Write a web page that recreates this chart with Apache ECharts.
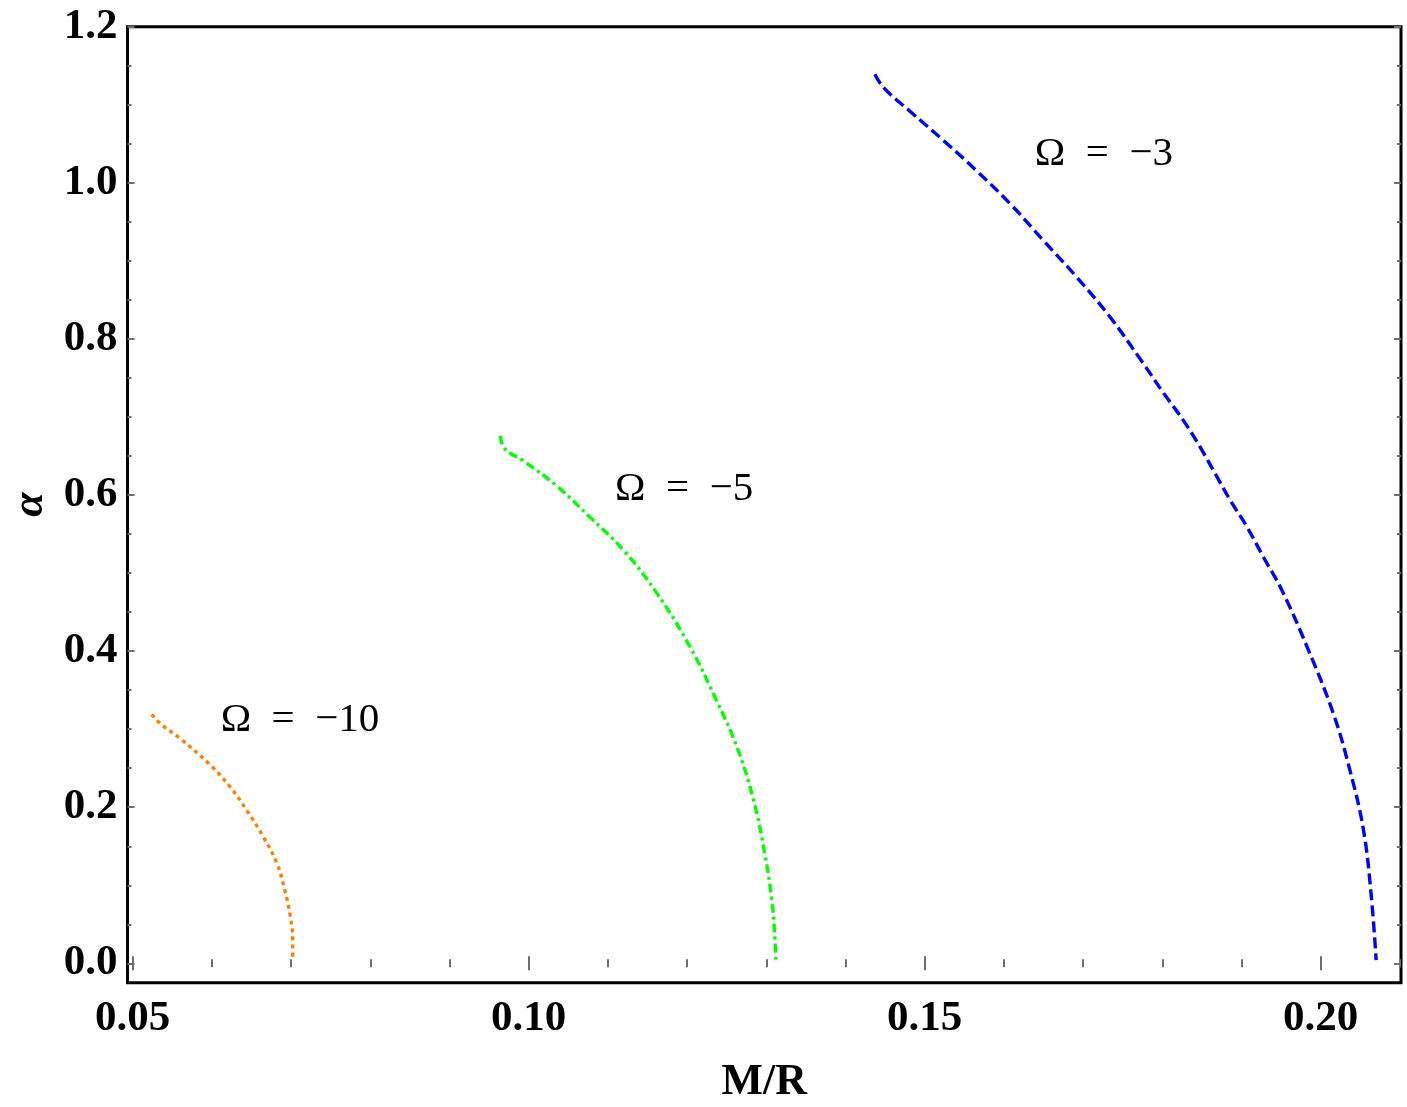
<!DOCTYPE html>
<html>
<head>
<meta charset="utf-8">
<title>alpha vs M/R</title>
<script src="https://cdn.jsdelivr.net/npm/echarts@6/dist/echarts.min.js"></script>
<style>
  html, body { margin: 0; padding: 0; background: #fff; }
  #main { width: 1407px; height: 1107px; }
</style>
</head>
<body>
<div id="main"></div>
<script>
// tick labels
var xTicks = [0.05, 0.10, 0.15, 0.20];
var yTicks = [0.0, 0.2, 0.4, 0.6, 0.8, 1.0, 1.2];

// Omega = -10 (orange, dotted)
var mr10    = [0.0524, 0.0535, 0.0560, 0.0598, 0.0623, 0.0644, 0.0665, 0.0682, 0.0692, 0.0699, 0.0702, 0.0702];
var alpha10 = [0.319, 0.307, 0.288, 0.254, 0.226, 0.196, 0.162, 0.128, 0.094, 0.060, 0.030, 0.004];

// Omega = -5 (green, dot-dashed)
var mr5    = [0.0964, 0.0970, 0.0993, 0.1035, 0.1077, 0.1120, 0.1162, 0.1204, 0.1237, 0.1263, 0.1284, 0.1298, 0.1307, 0.1311, 0.1312];
var alpha5 = [0.676, 0.659, 0.644, 0.612, 0.572, 0.529, 0.474, 0.405, 0.337, 0.277, 0.209, 0.141, 0.081, 0.030, 0.004];

// Omega = -3 (blue, dashed)
var mr3    = [0.1437, 0.1448, 0.1481, 0.1524, 0.1566, 0.1608, 0.1650, 0.1692, 0.1734, 0.1775, 0.1802, 0.1827, 0.1848, 0.1867, 0.1886, 0.1907, 0.1928, 0.1951, 0.1983, 0.2016, 0.2037, 0.2054, 0.2064, 0.2070];
var alpha3 = [1.139, 1.122, 1.092, 1.054, 1.015, 0.973, 0.926, 0.879, 0.828, 0.770, 0.730, 0.695, 0.661, 0.627, 0.593, 0.559, 0.520, 0.478, 0.405, 0.320, 0.247, 0.171, 0.085, 0.004];

// curve annotations: [x, y, text]
var notes = [
    [0.0611, 0.311, 'Ω\u2002=\u2002−10'],
    [0.1109, 0.607, 'Ω\u2002=\u2002−5'],
    [0.1639, 1.036, 'Ω\u2002=\u2002−3']
];

var XMIN = 0.04934, XMAX = 0.21014;
var YMIN = -0.0248, YMAX = 1.2;

// minor tick positions
var xMinor = [], yMinor = [];
for (var i = 0; i <= 16; i++) xMinor.push(+(0.05 + i * 0.01).toFixed(2));
for (var j = 0; j <= 24; j++) yMinor.push(+(j * 0.05).toFixed(2));

function pairs(xs, ys) {
    return xs.map(function (x, k) { return [x, ys[k]]; });
}

var serif = '"Liberation Serif", "Times New Roman", serif';
var tickStyle = { color: '#6e6e6e', width: 2 };

function makeAxis(pos, min, max, ticks, len, labels, digits) {
    return {
        type: 'value',
        position: pos,
        min: min,
        max: max,
        splitLine: { show: false },
        axisLine: { show: false },
        axisTick: { show: true, inside: true, length: len, lineStyle: tickStyle, customValues: ticks },
        axisLabel: {
            show: labels,
            customValues: ticks,
            margin: pos === 'bottom' ? 15 : 10,
            fontFamily: serif,
            fontWeight: 'bold',
            fontSize: 43,
            color: '#000',
            formatter: function (v) { return v.toFixed(digits); }
        }
    };
}

var chart = echarts.init(document.getElementById('main'));

var xMain = makeAxis('bottom', XMIN, XMAX, xTicks, 7, true, 2);
xMain.name = 'M/R';
xMain.nameLocation = 'middle';
xMain.nameGap = 78;
xMain.nameTextStyle = { fontFamily: serif, fontWeight: 'bold', fontSize: 44, color: '#000' };

var yMain = makeAxis('left', YMIN, YMAX, yTicks, 7, true, 1);
yMain.name = 'α';
yMain.nameLocation = 'middle';
yMain.nameGap = 75;
yMain.nameTextStyle = { fontFamily: serif, fontWeight: 'bold', fontStyle: 'italic', fontSize: 44, color: '#000' };

var option = {
    animation: false,
    backgroundColor: '#fff',
    grid: {
        left: 127.5, right: 6, top: 26.7, bottom: 124.3,
        outerBoundsMode: 'none',
        containLabel: false,
        show: true, borderColor: '#000', borderWidth: 3, backgroundColor: 'transparent'
    },
    xAxis: [
        xMain,
        makeAxis('bottom', XMIN, XMAX, xMinor, 4, false, 2),
        makeAxis('top', XMIN, XMAX, xTicks, 7, false, 2),
        makeAxis('top', XMIN, XMAX, xMinor, 4, false, 2)
    ],
    yAxis: [
        yMain,
        makeAxis('left', YMIN, YMAX, yMinor, 4, false, 1),
        makeAxis('right', YMIN, YMAX, yTicks, 7, false, 1),
        makeAxis('right', YMIN, YMAX, yMinor, 4, false, 1)
    ],
    series: [
        {
            name: 'Ω = −10',
            type: 'line',
            data: pairs(mr10, alpha10),
            showSymbol: false,
            smooth: 0.4,
            lineStyle: { color: '#ff8000', width: 3.4, type: [4, 4] }
        },
        {
            name: 'Ω = −5',
            type: 'line',
            data: pairs(mr5, alpha5),
            showSymbol: false,
            smooth: 0.4,
            lineStyle: { color: '#00ff00', width: 3.4, type: [9, 4, 3, 4] }
        },
        {
            name: 'Ω = −3',
            type: 'line',
            data: pairs(mr3, alpha3),
            showSymbol: false,
            smooth: 0.4,
            lineStyle: { color: '#0000ff', width: 3.4, type: [11, 5] }
        },
        {
            type: 'scatter',
            symbolSize: 0,
            silent: true,
            itemStyle: { opacity: 1 },
            data: notes,
            label: {
                show: true,
                position: 'right',
                distance: 0,
                opacity: 1,
                fontFamily: serif,
                fontSize: 41,
                color: '#000',
                textBorderWidth: 0,
                formatter: function (p) { return p.data[2]; }
            }
        }
    ]
};

option && chart.setOption(option);
</script>
</body>
</html>
